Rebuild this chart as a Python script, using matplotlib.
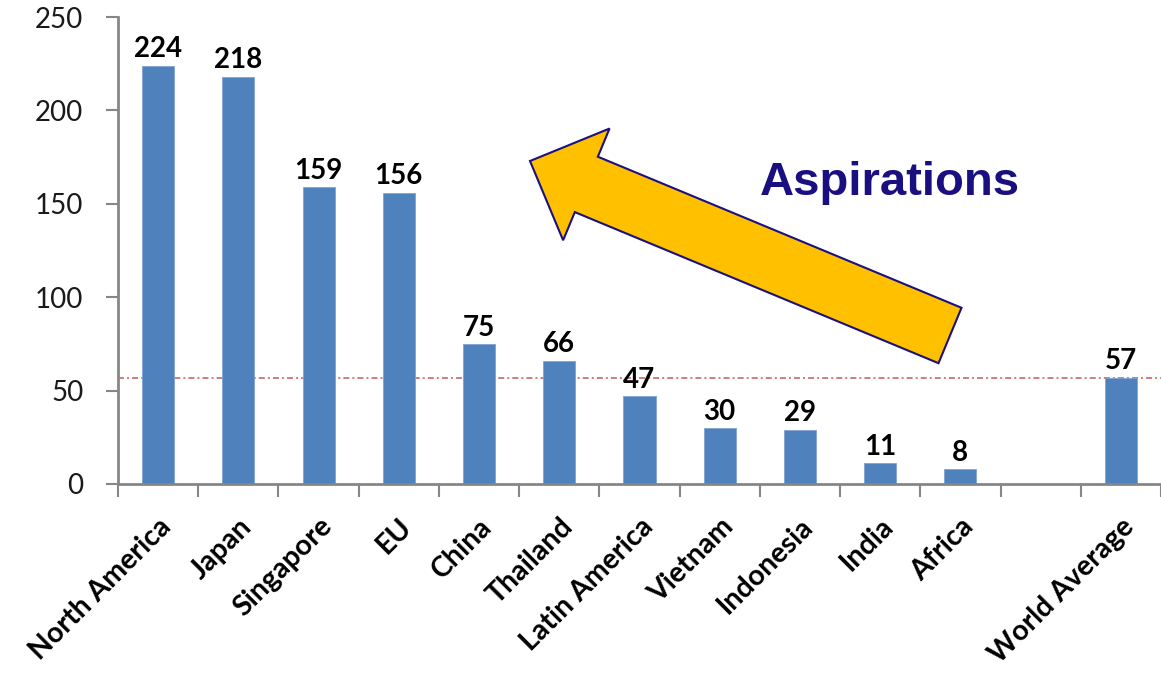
import numpy as np
import matplotlib
matplotlib.use("Agg")
import matplotlib.pyplot as plt
from matplotlib.patches import FancyArrow

# Datos del grafico
categories = ["North America", "Japan", "Singapore", "EU", "China", "Thailand",
              "Latin America", "Vietnam", "Indonesia", "India", "Africa", "",
              "World Average"]
values = [224, 218, 159, 156, 75, 66, 47, 30, 29, 11, 8, np.nan, 57]
world_average = 57
y_ticks = [0, 50, 100, 150, 200, 250]

plt.rcParams["font.family"] = ["Lato", "DejaVu Sans"]

fig = plt.figure(figsize=(11.61, 6.73), dpi=100)
ax = fig.add_axes([118 / 1161, 189 / 673, 1043 / 1161, 467 / 673])

x = np.arange(len(categories))
ax.bar(x, values, width=0.4, color="#4F81BD", edgecolor="#7FA3D0", linewidth=0.6, zorder=2)

# Etiquetas de valores encima de cada barra
for xi, v in zip(x, values):
    if np.isnan(v):
        continue
    ax.annotate(f"{v:.0f}", (xi, v), xytext=(0, 6), textcoords="offset points",
                ha="center", va="baseline", fontsize=20, fontweight="bold", color="black")

# Linea de la media mundial
ax.axhline(world_average, color="#C0504D", alpha=0.8, linewidth=1.3,
           dashes=(3.3, 1.7, 1.1, 1.7), zorder=1)

ax.set_ylim(0, 250)
ax.set_xlim(-0.5, -0.5 + 1043 / 81)
ax.set_yticks(y_ticks)
ax.tick_params(axis="y", labelsize=20, length=9, width=1.5, color="#868686",
               labelcolor="#1a1a1a", pad=16)

ax.set_xticks(x)
ax.set_xticklabels(categories, rotation=45, ha="right", rotation_mode="anchor",
                   fontsize=20.5, fontweight="bold")
ax.tick_params(axis="x", which="major", length=0, pad=21)
ax.set_xticks(np.arange(len(categories) + 1) - 0.5, minor=True)
ax.tick_params(axis="x", which="minor", length=9, width=1.5, color="#868686")

for side in ["top", "right"]:
    ax.spines[side].set_visible(False)
for side in ["left", "bottom"]:
    ax.spines[side].set_color("#868686")
    ax.spines[side].set_linewidth(2)

# Flecha de "Aspirations" (en pulgadas de la figura)
arrow = FancyArrow(9.50, 3.375, -4.20, 1.745, width=0.6, head_width=1.21,
                   head_length=0.61, length_includes_head=True,
                   transform=fig.dpi_scale_trans, facecolor="#FFC000",
                   edgecolor="#1A1080", linewidth=1.5, zorder=5)
fig.add_artist(arrow)

fig.text(890 / 1161, 1 - 183 / 673, "Aspirations", ha="center", va="center",
         fontsize=34, fontweight="bold", color="#1A0F80",
         family=["Liberation Sans", "DejaVu Sans"])

fig.savefig("out.png", dpi=100)
